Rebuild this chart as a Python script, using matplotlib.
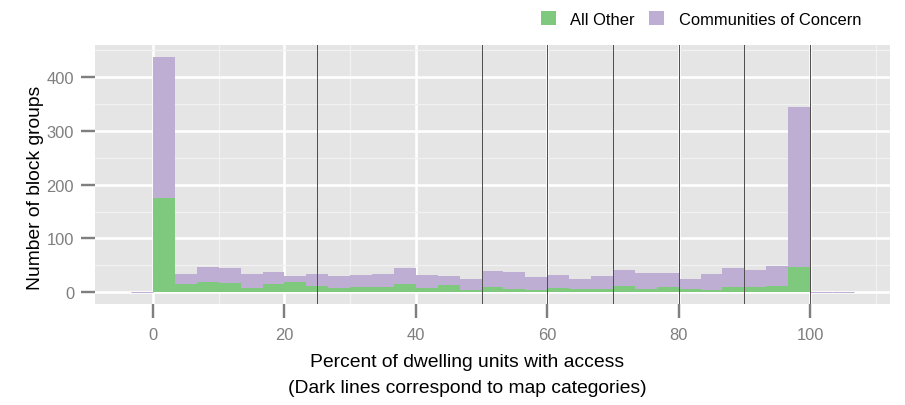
import numpy as np
import matplotlib
matplotlib.use("Agg")
import matplotlib.pyplot as plt
from matplotlib.ticker import MultipleLocator
from matplotlib.patches import Patch

# ---- data ----
binwidth = 100 / 30
# bins start at -1*binwidth and go up to 32*binwidth (33 bins)
bin_index = list(range(-1, 32))
all_other = [0, 175, 15, 19, 17, 8, 15, 19, 12, 8, 10, 10, 15, 8, 14, 4,
             10, 6, 4, 8, 6, 6, 12, 6, 10, 6, 4, 10, 10, 12, 47, 0, 0]
totals = [0, 438, 34, 47, 45, 34, 38, 30, 34, 30, 32, 34, 45, 32, 30, 25,
          40, 38, 28, 32, 25, 30, 42, 36, 36, 25, 34, 45, 42, 49, 345, 0, 0]
communities = [t - a for t, a in zip(totals, all_other)]
map_breaks = [25, 50, 60, 70, 80, 90, 100]
x_ticks = [0, 20, 40, 60, 80, 100]
y_ticks = [0, 100, 200, 300, 400]
series_labels = ["All Other", "Communities of Concern"]
colors = ["#7FC97F", "#BEAED4"]
x_title = ["Percent of dwelling units with access",
           "(Dark lines correspond to map categories)"]
y_title = "Number of block groups"

plt.rcParams['font.family'] = ['Liberation Sans', 'DejaVu Sans']

W, H = 905, 406
fig = plt.figure(figsize=(W / 100, H / 100), dpi=100)
px = 0.72  # points per pixel at dpi 100
ax = fig.add_axes([95 / W, (H - 305) / H, (890 - 95) / W, (305 - 46) / H])
ax.set_facecolor("#E5E5E5")
for s in ax.spines.values():
    s.set_visible(False)

lefts = np.array(bin_index) * binwidth
ao = np.array(all_other, dtype=float)
cc = np.array(communities, dtype=float)
ax.bar(lefts, ao, width=binwidth, align="edge", color=colors[0], linewidth=0, zorder=2)
ax.bar(lefts, cc, width=binwidth, bottom=ao, align="edge", color=colors[1], linewidth=0, zorder=2)
zero = (ao + cc) == 0
ax.bar(lefts[zero], cc[zero], width=binwidth, bottom=ao[zero], align="edge",
       color=colors[1], edgecolor=colors[1], linewidth=0.7, zorder=2)

for b in map_breaks:
    ax.axvline(b, color="#505050", linewidth=1.0 * px, zorder=3)

xmin, xmax = lefts.min(), lefts.max() + binwidth
xr = xmax - xmin
ax.set_xlim(xmin - 0.05 * xr, xmax + 0.05 * xr)
ymax = max(totals)
ax.set_ylim(-0.05 * ymax, ymax * 1.05)

ax.set_xticks(x_ticks)
ax.set_yticks(y_ticks)
ax.xaxis.set_minor_locator(MultipleLocator(10))
ax.yaxis.set_minor_locator(MultipleLocator(50))
ax.grid(which="major", color="white", linewidth=2.6 * px, zorder=1)
ax.grid(which="minor", color="#F2F2F2", linewidth=1.2 * px, zorder=1)
ax.set_axisbelow(True)
ax.tick_params(which="minor", length=0)
ax.tick_params(which="major", length=14 * px, width=2.4 * px, color="#7F7F7F",
               labelcolor="#7F7F7F", labelsize=16.5 * px, pad=7 * px)
ax.tick_params(axis="x", pad=9 * px)

# axis titles
fs_title = 19.3 * px
fig.text(467 / W, 1 - 367.3 / H, x_title[0], ha="center", va="baseline",
         fontsize=fs_title, color="black")
fig.text(467 / W, 1 - 392.7 / H, x_title[1], ha="center", va="baseline",
         fontsize=fs_title, color="black")
fig.text(40 / W, 1 - 188 / H, y_title, ha="center", va="baseline",
         rotation=90, rotation_mode="anchor", fontsize=fs_title, color="black")

# legend
handles = [Patch(facecolor=c, edgecolor="none") for c in colors]
leg = fig.legend(handles, series_labels, loc="center right",
                 bbox_to_anchor=(861 / W, 1 - 20 / H), ncol=2, frameon=False,
                 fontsize=16.5 * px, handlelength=0.91, handleheight=0.91,
                 handletextpad=0.85, columnspacing=0.9, borderaxespad=0, borderpad=0)

fig.savefig("out.png", dpi=100)
